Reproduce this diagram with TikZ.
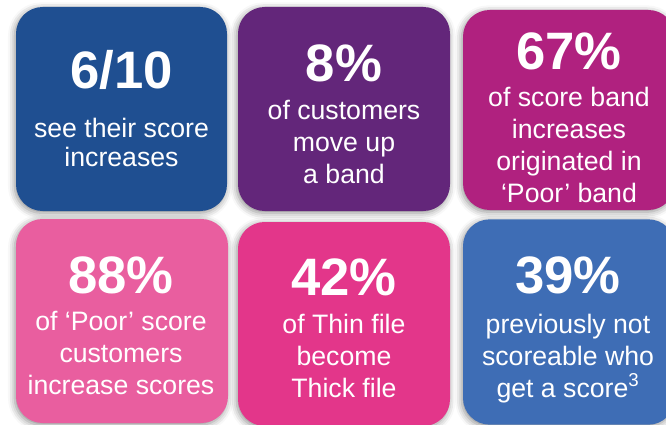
\documentclass[tikz,border=0pt]{standalone}
\usepackage{fontspec}
\setmainfont{Liberation Sans}
\usetikzlibrary{shadows.blur}

\definecolor{scoreblue}{HTML}{1F4F91}
\definecolor{scorepurple}{HTML}{63267A}
\definecolor{scoremagenta}{HTML}{B0217F}
\definecolor{scorepink}{HTML}{E95E9F}
\definecolor{scorerose}{HTML}{E3368A}
\definecolor{scoresky}{HTML}{3E6DB5}

\tikzset{
  tile/.style={rounded corners=20pt, inner sep=0pt, minimum width=159pt,
    blur shadow={shadow xshift=-1pt, shadow yshift=-1.5pt,
      shadow blur radius=5pt, shadow opacity=45}},
  bignum/.style={anchor=base, inner sep=0pt, text=white,
    font=\fontsize{39.5}{42}\selectfont\bfseries},
  blurb/.style={anchor=base, inner sep=0pt, text=white, align=center,
    font=\fontsize{20}{24}\selectfont},
}

\begin{document}
\begin{tikzpicture}[x=0.75pt, y=-0.75pt]
    \useasboundingbox (0, 0) rectangle (666, 424);
    \clip (0, 0) rectangle (666, 424);

    %%top row
    \node[tile, fill=scoreblue, minimum width=158.25pt, minimum height=153pt] (b1) at (121.5, 109){};
    \node[tile, fill=scorepurple, minimum height=153pt] (b2) at (344, 109){};
    \node[tile, fill=scoremagenta, minimum height=150pt] (b3) at (569, 110){};

    %%bottom row
    \node[tile, fill=scorepink, minimum height=153pt] (b4) at (122, 321){};
    \node[tile, fill=scorerose, minimum height=153pt] (b5) at (344, 324){};
    \node[tile, fill=scoresky, minimum height=154pt] (b6) at (569, 322){};

    %%B1 (base = last line)
    \node[bignum] (n1) at (121.5, 89){6/10};
    \node[blurb, font=\fontsize{20}{21}\selectfont] (t1) at (121.5, 166){see their score\\increases};
    %%B2
    \node[bignum] (n2) at (344, 82){8\%};
    \node[blurb] (t2) at (344, 183){of customers\\move up\\a band};
    %%B3
    \node[bignum] (n3) at (569, 70){67\%};
    \node[blurb] (t3) at (569, 202){of score band\\increases\\originated in\\‘Poor’ band};
    %%B4
    \node[bignum] (n4) at (121, 293){88\%};
    \node[blurb] (t4) at (121, 394){of ‘Poor’ score\\customers\\increase scores};
    %%B5
    \node[bignum] (n5) at (344, 295){42\%};
    \node[blurb] (t5) at (344, 397){of Thin file\\become\\Thick file};
    %%B6
    \node[bignum] (n6) at (568, 293){39\%};
    \node[blurb] (t6) at (568, 397){previously not\\scoreable who\\get a score\textsuperscript{3}};

\end{tikzpicture}
\end{document}
